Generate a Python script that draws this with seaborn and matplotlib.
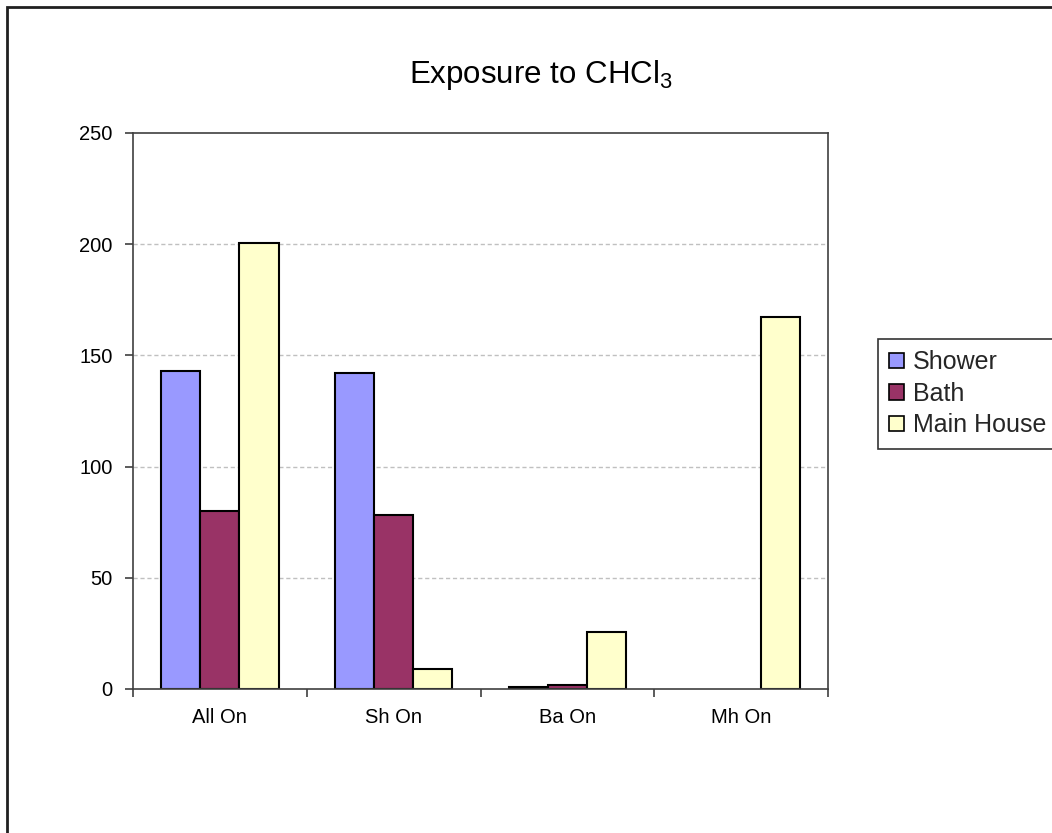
import matplotlib
matplotlib.use("Agg")
import matplotlib.pyplot as plt
from matplotlib.patches import Rectangle
from matplotlib.ticker import FixedLocator
import seaborn as sns
import pandas as pd

# Chloroform exposure by operating scenario
scenarios = ["All On", "Sh On", "Ba On", "Mh On"]
sources = ["Shower", "Bath", "Main House"]
shower = [143, 142, 0.7, 0]
bath = [80, 78.4, 1.8, 0]
main_house = [200.5, 9, 25.5, 167.4]
colors = ["#9999FF", "#993366", "#FFFFCC"]
y_ticks = [0, 50, 100, 150, 200, 250]

rows = []
for src, vals in zip(sources, [shower, bath, main_house]):
    for sc, v in zip(scenarios, vals):
        rows.append({"scenario": sc, "source": src, "value": v})
df = pd.DataFrame(rows)

sns.set_theme(style="white")
plt.rcParams["font.family"] = ["Liberation Sans", "DejaVu Sans"]
plt.rcParams["mathtext.default"] = "regular"

W, H = 1052, 833
fig = plt.figure(figsize=(W / 100, H / 100), dpi=100)
fig.patch.set_facecolor("white")
ax = fig.add_axes([133 / W, 1 - 689 / H, (828 - 133) / W, (689 - 133) / H])

sns.barplot(data=df, x="scenario", y="value", hue="source", order=scenarios,
            hue_order=sources, palette=colors, edgecolor="black", linewidth=1.5,
            width=0.675, gap=0, saturation=1, errorbar=None, ax=ax, legend=False)

# zero-height bars carry no visible outline
for bar in ax.patches:
    if bar.get_height() == 0:
        bar.set_linewidth(0)

ax.set_xlim(-0.5, len(scenarios) - 0.5)
ax.set_ylim(0, 250)
ax.set_yticks(y_ticks)
ax.set_yticklabels([str(t) for t in y_ticks])
ax.set_xlabel("")
ax.set_ylabel("")

# dashed horizontal gridlines
for t in y_ticks[1:-1]:
    ax.axhline(t, color="#c0c0c0", lw=1, ls=(0, (3, 2)), zorder=0)

for s in ax.spines.values():
    s.set_visible(True)
    s.set_color("#404040")
    s.set_linewidth(1.2)

ax.tick_params(axis="y", which="major", direction="out", length=6, width=1.2,
               color="#404040", pad=8.5, labelsize=14.5, labelcolor="black", left=True)
ax.tick_params(axis="x", which="major", length=0, pad=14, labelsize=14.5,
               labelcolor="black")
ax.xaxis.set_minor_locator(FixedLocator([-0.5, 0.5, 1.5, 2.5, 3.5]))
ax.tick_params(axis="x", which="minor", direction="out", length=6, width=1.2,
               color="#404040", bottom=True)

# legend
handles = [Rectangle((0, 0), 1, 1, facecolor=c, edgecolor="black", lw=1.2) for c in colors]
leg = fig.legend(handles, sources, loc="upper left",
                 bbox_to_anchor=(878 / W, 1 - 339 / H), frameon=True, fancybox=False,
                 fontsize=18, handlelength=0.6, handleheight=0.6, handletextpad=0.35,
                 labelspacing=0.3, borderpad=0.45, borderaxespad=0)
leg.get_frame().set_edgecolor("black")
leg.get_frame().set_linewidth(1.2)

# title
fig.text(541 / W, 1 - 83 / H, "Exposure to CHCl$_3$", ha="center", va="baseline",
         fontsize=22.5, color="black")

# chart area border
fig.patches.append(Rectangle((7 / W, -0.2), 1.5, 1.2 - 7 / H, transform=fig.transFigure,
                             fill=False, edgecolor="#202020", lw=2, zorder=10))

fig.savefig("out.png", dpi=100, facecolor="white")
